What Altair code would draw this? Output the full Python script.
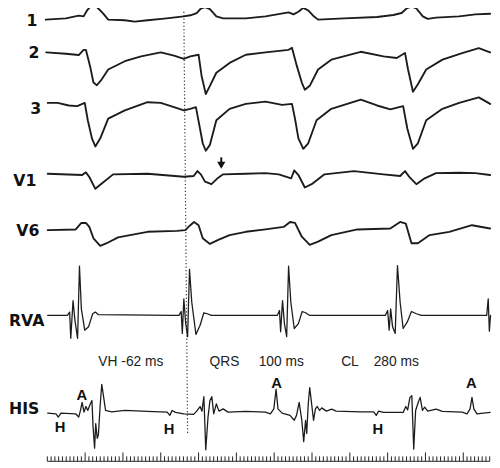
import altair as alt
import pandas as pd

# ---- traces: time (ms) and amplitude (arbitrary units, up = positive) ----
lead1_t = [-4, 49, 83, 96, 105, 114, 127, 135, 148, 161, 205, 231, 265, 309, 361, 382, 395, 406, 417, 430, 447, 465,
           525, 577, 638, 651, 664, 677, 690, 703, 716, 785, 872, 915, 937, 950, 963, 976, 993, 1006, 1028, 1089, 1132, 1171]
lead1_a = [0, 1.3, 4, 3.3, 9.3, 13.3, 14, 11.3, 6, 0, -0.7, -2, -0.7, 1, 3.3, 4.7, 6.7, 11.3, 12.7, 10.7, 3.3, 1.3,
           1.3, 3.3, 7.3, 5.3, 8, 12, 9.3, 4, 0, 1.3, 2.7, 4.7, 6.7, 11.3, 13.3, 11.3, 3.3, 0.7, 2, 3.3, 5.3, 6]

lead2_t = [-3, 49, 83, 96, 102, 114, 122, 131, 144, 161, 205, 248, 300, 335, 361, 378, 400, 408, 419, 430, 447, 482,
           525, 577, 638, 647, 660, 673, 681, 694, 716, 751, 829, 889, 924, 946, 954, 967, 980, 1002, 1045, 1097, 1141, 1171]
lead2_a = [0.7, -0.7, -2, 3.3, 3.3, -15, -30, -32.7, -26.7, -16.7, -8.3, -3.3, 0.7, -2.7, -6, -3.3, -1.7, -23.3, -41.7, -33.3, -20, -10,
           -1.7, 0.7, 3.3, 5.3, -13.3, -30, -37.3, -33.3, -16.7, -6.7, 1.3, -3.3, -5, 0, -16.7, -39.3, -31.7, -16.7, -6.7, 0, 5, 0.7]

lead3_t = [1, 27, 57, 79, 99, 107, 118, 127, 140, 161, 205, 265, 300, 335, 361, 378, 393, 402, 411, 419, 430, 447, 482,
           525, 577, 621, 647, 655, 664, 677, 690, 712, 751, 829, 872, 907, 941, 952, 967, 980, 1002, 1045, 1089, 1141, 1171]
lead3_a = [0.3, 0.3, -2.3, -3, 0.3, -17.3, -35.7, -44, -35.7, -15.7, -7.3, 1, 0.3, -4, -7.3, -5.7, -4, -22.3, -40.7, -48.3, -42.3, -17.3, -5.7,
           -0.7, 1.7, -1.7, -0.7, -15.7, -35.7, -46.3, -40.7, -17.3, -5.7, 3.7, -2.3, -6.3, -3, -25.7, -46.3, -40.7, -17.3, -5.7, 0.3, 6, -0.7]

v1_t = [1, 92, 102, 111, 127, 144, 174, 265, 361, 387, 397, 406, 417, 434, 452, 465, 525, 577, 612, 645, 653, 664, 681, 699,
        733, 811, 889, 933, 946, 959, 976, 998, 1028, 1089, 1132, 1171]
v1_a = [0.3, -1, 1.7, -3, -15, -9.7, -0.3, 0.3, -2.7, -2, 3, -0.3, -7.7, -10.3, -3.7, -0.3, 0.3, 1, -0.3, -4.3, 3.7, -1, -13.7, -10.3,
        -0.3, 3, -0.3, -2, 3, -3.7, -10.3, -4.3, 1, 1.3, 1, -1]

v6_t = [1, 75, 90, 102, 111, 122, 140, 157, 187, 265, 343, 365, 378, 388, 400, 411, 430, 452, 482, 525, 577, 625, 642, 655,
        673, 694, 716, 751, 820, 907, 933, 948, 963, 980, 1011, 1063, 1123, 1171]
v6_a = [0, 0.7, 7.3, 7.3, 3.3, -8.3, -16, -13.3, -7.3, -1.7, -0.7, 0, 5, 8.3, 5, -8.3, -14, -10, -5, -1.7, 0.7, 3.3, 8.3, 7.3,
        -6.7, -15, -11.7, -5, 0.7, 1.7, 8.3, 6.7, -13.3, -13.3, -5, -1.7, 5, 1.7]

rva_t = [1, 53, 59, 62, 68, 73, 80, 85, 90, 99, 109, 120, 127, 135, 335,
         348, 354, 357, 361, 366, 371, 376, 382, 393, 404, 414, 423, 434,
         608, 614, 617, 622, 627, 633, 638, 644, 653, 664, 674, 683, 694,
         894, 900, 904, 908, 913, 920, 926, 933, 941, 952, 963, 976, 989,
         1162, 1166, 1169, 1172]
rva_a = [0, 0, 3.4, -23.3, 15, -5, -23.3, 50, 6.7, -15, -11.6, 1.7, 3.4, 0.7, 0,
         0, 4, -18.3, 16.7, -8.3, -21.6, 46.7, 13.4, -19.3, -10, 2.7, 1.7, 0,
         0, 5, -16.6, 15, -8.3, -21.6, 50, 13.4, -13.3, -8.3, 4, 2.7, 0,
         0, 5, -15, 6.7, -11.6, -18.3, 50.7, 13.4, -13.3, -6.6, 4, 1.7, 0,
         0, 16.7, -16, 0]

his_t = [1, 23, 29, 36, 75, 83, 88, 92, 97, 102, 107, 113, 118, 121, 125, 128, 132, 135, 140, 144, 149, 154, 170, 205, 265,
         317, 324, 330, 339, 361, 387, 395, 404, 409, 414, 419, 425, 430, 435, 440, 447, 454, 465, 478, 525,
         577, 590, 599, 605, 610, 621, 642, 653, 659, 666, 673, 678, 683, 686, 690, 694, 699, 704, 709, 714, 720, 726,
         738, 752, 764, 829, 863, 870, 876, 889, 941, 948, 953, 959, 964, 969, 974, 981, 986, 992, 998, 1006, 1028,
         1045, 1097, 1110, 1118, 1123, 1128, 1136, 1171]
his_a = [-1, -1.7, -5, -1, -1.7, -5, 2.3, 10, 0, 5.7, 1.7, 7.7, 11.7, -15, -36.7, -11.7, -26.7, -23.3, 8.3, 28.3, 15, 1.7, 0.3, 1.7, 0.7,
         0, -3.3, 1.7, -0.3, -1.7, -2.3, 1, 5.7, 1, 15.7, -38.3, -5, 11.7, 15.7, -1.7, 8.3, 1, 3.3, 0, 0.7,
         0, -1.7, 3.3, 23.3, 3.3, -1, -3.3, -8.3, -3.3, 10, -8.3, -30, -8.3, -21.7, 8.3, 25, 8.3, -8.3, 3.3, 5.7, 1.7, 4.3,
         1, 3, 1, 0.3, 0.3, -3.3, 1, -0.3, -0.3, 5.7, 2.3, 15, 16.7, -37.7, 1.7, 10, 15, 1.7, 5, 1, 3,
         0.7, 0, -1.7, 3.3, 15, 3.3, -1.7, -0.3]

channels = ["1", "2", "3", "V1", "V6", "RVA", "HIS"]
traces = {
    "1": (lead1_t, lead1_a), "2": (lead2_t, lead2_a), "3": (lead3_t, lead3_a),
    "V1": (v1_t, v1_a), "V6": (v6_t, v6_a), "RVA": (rva_t, rva_a), "HIS": (his_t, his_a),
}
baseline = {"1": 452, "2": 418, "3": 367, "V1": 295, "V6": 238, "RVA": 151.3, "HIS": 53}
label_pos = {"1": (-26, 446), "2": (-21, 413), "3": (-16, 356), "V1": (-29, 283),
             "V6": (-21, 232), "RVA": (-8, 141), "HIS": (-21, 51)}

rows = []
for ch in channels:
    ts, amps = traces[ch]
    for i, (t, a) in enumerate(zip(ts, amps)):
        rows.append({"ch": ch, "i": i, "t": t, "v": baseline[ch] + a,
                     "w": 1.3 if ch in ("RVA", "HIS") else 1.9})
df = pd.DataFrame(rows)

labels_df = pd.DataFrame([{"txt": ch, "t": label_pos[ch][0], "v": label_pos[ch][1]} for ch in channels])

ann_txt = ["VH -62 ms", "QRS", "100 ms", "CL", "280 ms"]
ann_t = [135, 429, 559, 777, 863]
ann_df = pd.DataFrame({"txt": ann_txt, "t": ann_t, "v": [100] * 5})

ha_txt = ["H", "A", "H", "A", "H", "A"]
ha_t = [34, 91, 322, 606, 874, 1121]
ha_v = [33, 65, 31, 78, 31, 78]
ha_df = pd.DataFrame({"txt": ha_txt, "t": ha_t, "v": ha_v})

# ruler: 10 ms minor ticks, 100 ms major ticks
ruler_ms = list(range(0, 1171, 10))
ruler_df = pd.DataFrame({"t": ruler_ms, "top": [12 if (m % 100 == 0 and m > 0) else 8 for m in ruler_ms], "bot": [3] * len(ruler_ms)})
ruler_base = pd.DataFrame({"t": [0], "t2": [1170], "v": [3]})

dotted_df = pd.DataFrame({"t": [361], "t2": [371], "v": [460], "v2": [30]})
arrow_df = pd.DataFrame({"t": [460], "v": [312], "v2": [304]})

X0, X1 = -104, 1176
xs = alt.Scale(domain=[X0, X1], nice=False, zero=False)
ys = alt.Scale(domain=[0, 460], nice=False, zero=False)
X = lambda f: alt.X(f, type="quantitative", scale=xs, axis=None)
Y = lambda f: alt.Y(f, type="quantitative", scale=ys, axis=None)

lines = alt.Chart(df).mark_line(color="#1c1c1c", strokeJoin="round", strokeCap="round").encode(
    x=X("t"), y=Y("v"), detail="ch:N", order="i:Q",
    strokeWidth=alt.StrokeWidth("w:Q", scale=None),
)

labels = alt.Chart(labels_df).mark_text(align="right", baseline="alphabetic", font="DejaVu Sans",
                                         fontWeight="bold", fontSize=16, color="#111").encode(
    x=X("t"), y=Y("v"), text="txt:N")

ann = alt.Chart(ann_df).mark_text(align="left", baseline="alphabetic", font="Liberation Sans",
                                  fontSize=14, color="#222").encode(x=X("t"), y=Y("v"), text="txt:N")

ha = alt.Chart(ha_df).mark_text(align="center", baseline="alphabetic", font="Liberation Sans",
                                fontWeight="bold", fontSize=15, color="#111").encode(x=X("t"), y=Y("v"), text="txt:N")

ticks = alt.Chart(ruler_df).mark_rule(color="#222", strokeWidth=1).encode(
    x=X("t"), y=Y("bot"), y2="top")
base = alt.Chart(ruler_base).mark_rule(color="#222", strokeWidth=1).encode(
    x=X("t"), x2="t2", y=Y("v"))

dotted = alt.Chart(dotted_df).mark_rule(color="#333", strokeWidth=1.2, strokeDash=[1.2, 2.3]).encode(
    x=X("t"), x2="t2", y=Y("v"), y2="v2")

arrow_shaft = alt.Chart(arrow_df).mark_rule(color="#111", strokeWidth=2).encode(
    x=X("t"), y=Y("v"), y2="v2")
arrow_head = alt.Chart(arrow_df).mark_point(shape="triangle-down", filled=True, size=70, color="#111", opacity=1).encode(
    x=X("t"), y=Y("v2"))

chart = alt.layer(dotted, lines, labels, ann, ha, ticks, base, arrow_shaft, arrow_head).properties(
    width=492, height=460, autosize=alt.AutoSizeParams(type="none"), padding=0
).configure_view(stroke=None)

chart.save("out.html", embed_options={"renderer": "svg", "actions": False})
